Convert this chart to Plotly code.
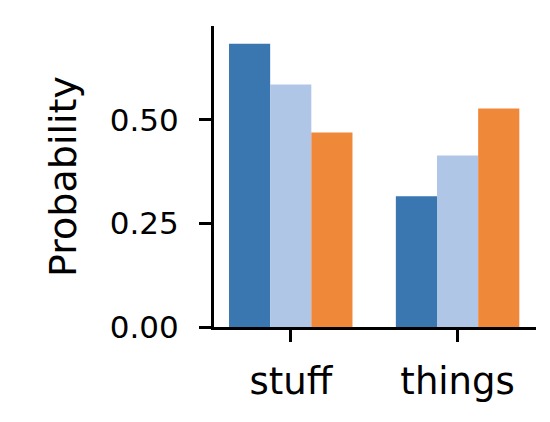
import plotly.graph_objects as go

categories = ['stuff', 'things']
series_a = [0.684, 0.316]
series_b = [0.586, 0.414]
series_c = [0.470, 0.528]
colors = ['#3a76b0', '#b0c6e6', '#f0883a']

fig = go.Figure()
for vals, col in zip([series_a, series_b, series_c], colors):
    fig.add_trace(go.Bar(x=[0, 1], y=vals, marker=dict(color=col, line=dict(width=0)),
                         showlegend=False))

axis_style = dict(showline=True, linecolor='black', linewidth=3, ticks='outside',
                  ticklen=12, tickwidth=3, tickcolor='black', showgrid=False, zeroline=False)
fig.update_layout(
    width=550, height=422, barmode='group', bargap=0.26, bargroupgap=0,
    plot_bgcolor='white', paper_bgcolor='white',
    margin=dict(l=206, r=22, t=18, b=103),
    font=dict(family='DejaVu Sans', size=31, color='black'),
    xaxis=dict(range=[-0.46, 1.47], tickvals=[0, 1], ticktext=categories,
               tickfont=dict(size=37), ticklabelstandoff=8, **axis_style),
    yaxis=dict(range=[0, 0.727], tickvals=[0, 0.25, 0.5], ticktext=['0.00', '0.25', '0.50'],
               ticklabelstandoff=14,
               title=dict(text='Probability', font=dict(size=38), standoff=22), **axis_style),
)
fig.write_html('out.html')
